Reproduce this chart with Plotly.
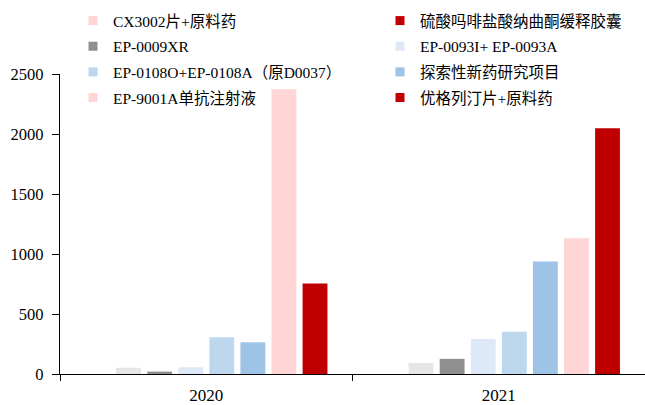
import plotly.graph_objects as go

years = ["2020", "2021"]
series_names = [
    "CX3002片+原料药",
    "硫酸吗啡盐酸纳曲酮缓释胶囊",
    "EP-0009XR",
    "EP-0093I+ EP-0093A",
    "EP-0108O+EP-0108A（原D0037）",
    "探索性新药研究项目",
    "EP-9001A单抗注射液",
    "优格列汀片+原料药",
]
cx3002 = [0, 0]
liusuan = [52, 92]
ep0009 = [20, 126]
ep0093 = [56, 292]
ep0108 = [307, 352]
tansuo = [264, 938]
ep9001 = [2372, 1132]
yougelie = [754, 2048]
values = [cx3002, liusuan, ep0009, ep0093, ep0108, tansuo, ep9001, yougelie]

bar_colors = ["#ffd5d5", "#e6e6e6", "#8f8f8f", "#dde9f6", "#bdd7ee", "#9dc3e6", "#ffd5d5", "#c00000"]
legend_colors = ["#ffd5d5", "#c00000", "#8f8f8f", "#dde9f6", "#bdd7ee", "#9dc3e6", "#ffd5d5", "#c00000"]

FONT = 'Liberation Serif, "Times New Roman", "Noto Sans CJK SC", serif'

fig = go.Figure()
for i, (name, vals) in enumerate(zip(series_names, values)):
    grp = f"g{i}"
    fig.add_trace(go.Bar(
        x=years, y=vals, name=name, marker_color=bar_colors[i],
        marker_line_width=0, showlegend=False, legendgroup=grp,
    ))
for i, name in enumerate(series_names):
    grp = f"g{i}"
    fig.add_trace(go.Scatter(
        x=[years[0]], y=[None], mode="markers", name=name, legendgroup=grp,
        marker=dict(symbol="square", size=9, color=legend_colors[i]),
        legend="legend" if i % 2 == 0 else "legend2", showlegend=True,
        hoverinfo="skip",
    ))

legend_common = dict(
    orientation="v", xref="container", yref="container",
    xanchor="left", yanchor="top", font=dict(family=FONT, size=15.5, color="black"),
    bgcolor="rgba(0,0,0,0)", borderwidth=0, tracegroupgap=2.5, traceorder="grouped",
)

fig.update_layout(
    width=645, height=405,
    margin=dict(l=60, r=0, t=74, b=31, autoexpand=False),
    paper_bgcolor="white", plot_bgcolor="white",
    barmode="group", bargap=0.15, bargroupgap=0.2,
    font=dict(family=FONT, size=15, color="black"),
    legend=dict(x=73 / 645, y=1 - 4 / 405, **legend_common),
    legend2=dict(x=380 / 645, y=1 - 4 / 405, **legend_common),
    xaxis=dict(
        type="category", categoryorder="array", categoryarray=years, range=[-0.5, 1.5],
        showline=True, linecolor="black", linewidth=1.3,
        ticks="outside", tickson="boundaries", ticklen=6, tickcolor="black", tickwidth=1.3,
        tickfont=dict(family=FONT, size=17, color="black"), showgrid=False,
        ticklabelstandoff=5,
    ),
    yaxis=dict(
        range=[0, 2500], tickvals=[0, 500, 1000, 1500, 2000, 2500],
        showline=True, linecolor="black", linewidth=1.3,
        ticks="outside", ticklen=7, tickcolor="black", tickwidth=1.3,
        tickfont=dict(family=FONT, size=16.5, color="black"),
        showgrid=False, zeroline=False, ticklabelstandoff=5,
    ),
)

fig.write_html("out.html")
